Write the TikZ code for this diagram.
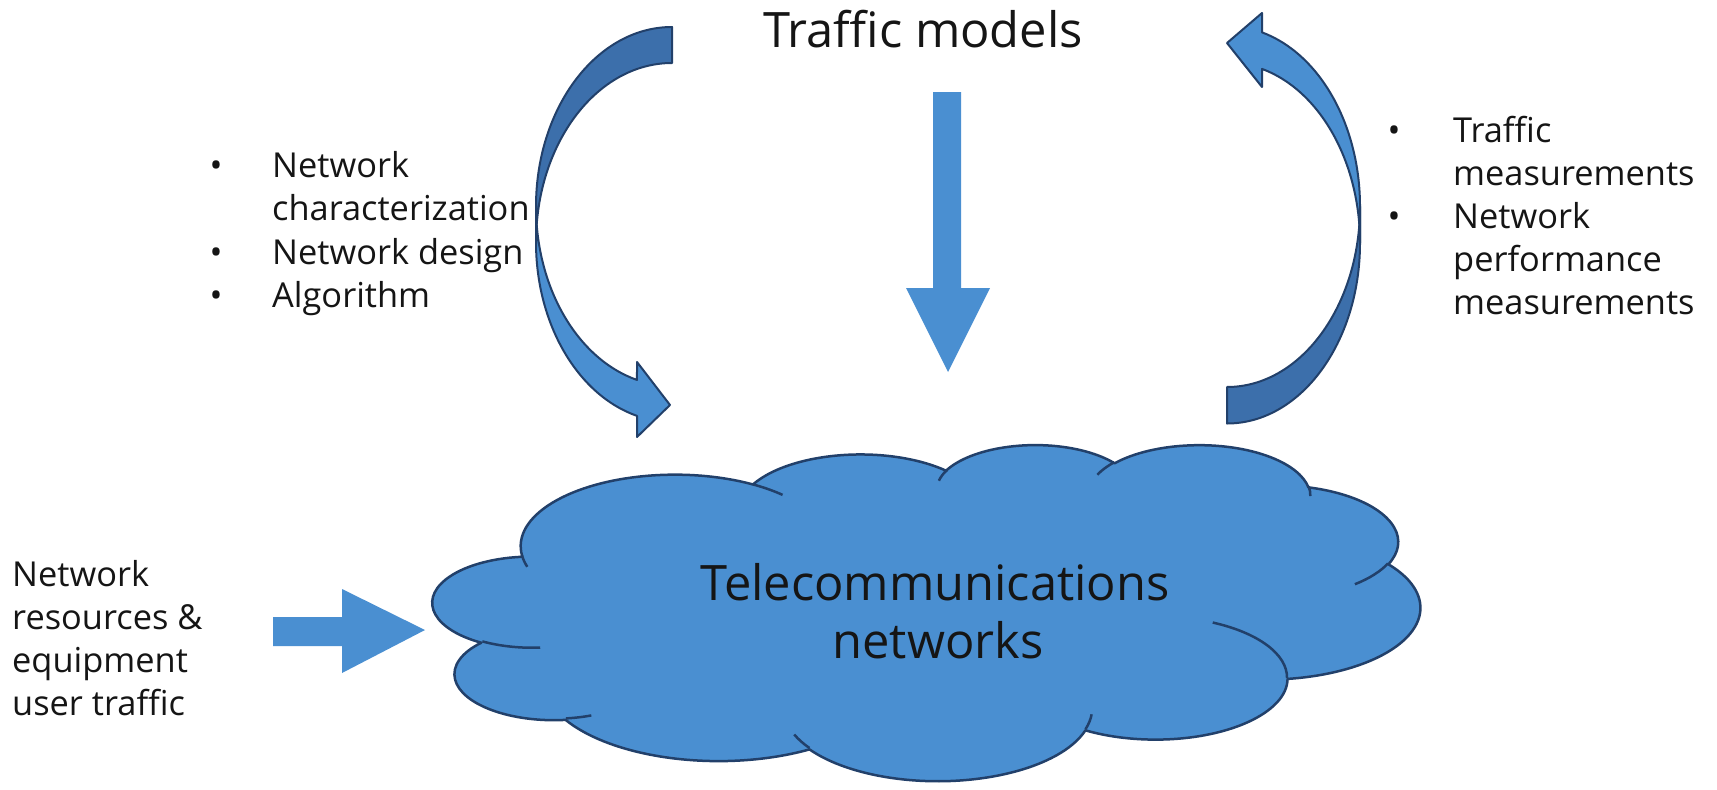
\documentclass[tikz,border=0pt]{standalone}
\usepackage{fontspec}
\setmainfont{Open Sans}
\definecolor{cloudblue}{HTML}{4A8FD1}
\definecolor{shadeblue}{HTML}{3C6FAB}
\definecolor{edgeblue}{HTML}{22406A}
\definecolor{inktext}{HTML}{151515}
% elliptical arc given by radii, visual start angle and sweep (degrees)
\newcommand\ca[4]{arc[x radius=#1, y radius=#2,
  start angle={atan2(#1*sin(#3),#2*cos(#3))},
  delta angle={mod(atan2(#1*sin(#3+#4),#2*cos(#3+#4))-atan2(#1*sin(#3),#2*cos(#3))+720,360)}]}
\begin{document}
\begin{tikzpicture}[x=1bp, y=-1bp,
  blockarrow/.style={fill=cloudblue, draw=none},
  bandfront/.style={fill=cloudblue, draw=edgeblue, line width=2bp, line join=round},
  bandback/.style={fill=shadeblue, draw=edgeblue, line width=2bp, line join=round},
  cloudedge/.style={draw=edgeblue, line width=2.5bp},
  bullettext/.style={font=\fontsize{34.5}{43}\selectfont, text=inktext, inner sep=0pt, anchor=base west},
  bulletdot/.style={font=\fontsize{34.5}{43}\selectfont, text=inktext, inner sep=0pt, anchor=base},
  bigtext/.style={font=\fontsize{49}{58}\selectfont, text=inktext, inner sep=0pt, anchor=base}]
\useasboundingbox[fill=white] (0,0) rectangle (1717,790);

% title
\node[bigtext] (title) at (923,48) {Traffic models};

% straight arrow from the models down to the network
\path[blockarrow] (933,92) -- (961,92) -- (961,288) -- (990,288) -- (948,372)
  -- (906,288) -- (933,288) -- cycle;

% left curved arrow: back face, then front face with head
\path[bandback] (672,27) arc[x radius=136, y radius=179.5, start angle=270, end angle=180]
  -- (536,242.5) arc[x radius=136, y radius=179.5, start angle=180, end angle=270] -- cycle;
\path[bandfront] (536,206.5) arc[x radius=136, y radius=179.5, start angle=180, end angle=104.92]
  -- (637,362) -- (670,405) -- (637,437) -- (637,415.9)
  arc[x radius=136, y radius=179.5, start angle=104.92, end angle=180] -- cycle;

% right curved arrow: back face, then front face with head
\path[bandback] (1227,387) arc[x radius=133, y radius=180.5, start angle=90, end angle=0]
  -- (1360,243) arc[x radius=133, y radius=180.5, start angle=0, end angle=90] -- cycle;
\path[bandfront] (1360,206.5) arc[x radius=133, y radius=180.5, start angle=0, end angle=-74.74]
  -- (1262,13) -- (1227,43) -- (1262,87) -- (1262,68.9)
  arc[x radius=133, y radius=180.5, start angle=-74.74, end angle=0] -- cycle;

% small input arrow into the cloud
\path[blockarrow] (273,617) -- (342,617) -- (342,589) -- (425,630) -- (342,673)
  -- (342,646) -- (273,646) -- cycle;

% cloud
\begin{scope}[shift={(433,444)}, xscale=987/43.2, yscale=336/43.2]
  \path[fill=cloudblue, cloudedge, line join=round] (3.9,14.37)
    \ca{6.753}{9.190}{-190.4875}{123.7805}
    \ca{5.333}{7.267}{-144.1024}{89.9452}
    \ca{4.365}{5.945}{-145.8079}{99.7230}
    \ca{4.857}{6.595}{-130.9861}{117.2417}
    \ca{5.333}{7.273}{-78.7089}{109.0269}
    \ca{6.775}{9.220}{-46.2673}{130.2690}
    \ca{5.785}{7.867}{0.6250}{114.0333}
    \ca{6.752}{9.215}{22.4516}{115.1726}
    \ca{7.720}{10.543}{66.2426}{75.7110}
    \ca{4.360}{5.918}{-274.9421}{146.7356}
    \ca{4.345}{5.945}{-246.8285}{152.5189}
    -- cycle;
  \draw[cloudedge]
    (4.693,26.177) \ca{4.345}{5.945}{86.7420}{26.4295}
    (6.928,34.899) \ca{4.360}{5.918}{73.6105}{11.4475}
    (16.478,39.090) \ca{6.752}{9.215}{137.6242}{14.0811}
    (28.827,34.751) \ca{6.752}{9.215}{6.4533}{15.9984}
    (34.129,22.954) \ca{5.785}{7.867}{-70.2924}{70.9174}
    (41.798,15.354) \ca{5.333}{7.273}{30.3180}{27.7515}
    (38.324,5.426) \ca{4.857}{6.595}{-13.7443}{14.8589}
    (29.078,3.952) \ca{4.857}{6.595}{-149.1815}{18.1954}
    (22.141,4.720) \ca{4.365}{5.945}{-163.4943}{17.6864}
    (14.000,5.192) \ca{6.753}{9.190}{-66.7070}{12.3194}
    (4.127,15.789) \ca{6.753}{9.190}{157.6544}{11.8582};
\end{scope}
\node[bigtext] (net1) at (935,600) {Telecommunications};
\node[bigtext] (net2) at (938,658) {networks};

% left bullet list
\node[bulletdot] (ld1) at (216,177) {•};
\node[bullettext] (lt1) at (272,177) {Network};
\node[bullettext] (lt2) at (272,220) {characterization};
\node[bulletdot] (ld2) at (216,264) {•};
\node[bullettext] (lt3) at (272,264) {Network design};
\node[bulletdot] (ld3) at (216,307) {•};
\node[bullettext] (lt4) at (272,307) {Algorithm};

% right bullet list
\node[bulletdot] (rd1) at (1394,142) {•};
\node[bullettext] (rt1) at (1453,142) {Traffic};
\node[bullettext] (rt2) at (1453,185) {measurements};
\node[bulletdot] (rd2) at (1394,228) {•};
\node[bullettext] (rt3) at (1453,228) {Network};
\node[bullettext] (rt4) at (1453,271) {performance};
\node[bullettext] (rt5) at (1453,314) {measurements};

% inputs
\node[bullettext] (in1) at (12,586) {Network};
\node[bullettext] (in2) at (12,629) {resources \&};
\node[bullettext] (in3) at (12,672) {equipment};
\node[bullettext] (in4) at (12,715) {user traffic};
\end{tikzpicture}
\end{document}
